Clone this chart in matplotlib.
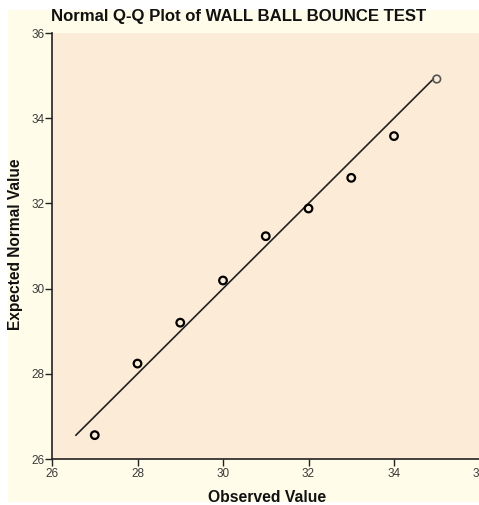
import matplotlib
matplotlib.use("Agg")
import matplotlib.pyplot as plt
from matplotlib.patches import Rectangle

observed = [27, 28, 29, 30, 31, 32, 33, 34, 35]
expected = [26.56, 28.24, 29.20, 30.19, 31.23, 31.88, 32.60, 33.58, 34.92]
line_ends = [26.56, 34.92]
x_ticks = [26, 28, 30, 32, 34, 36]
y_ticks = [26, 28, 30, 32, 34, 36]

W, H = 479, 505
fig = plt.figure(figsize=(W / 100, H / 100), dpi=100)
fig.patch.set_facecolor("white")
fig.patches.append(Rectangle((8 / W, 3 / H), 1 - 8 / W, (H - 13) / H,
                             transform=fig.transFigure, facecolor="#FFFDE9",
                             edgecolor="none", zorder=-10))

ax = fig.add_axes([52 / W, (H - 459) / H, (479.5 - 52) / W, (459 - 33) / H])
ax.set_facecolor("#FCEBD6")
ax.set_xlim(26, 36)
ax.set_ylim(26, 36)
ax.plot(line_ends, line_ends, color="#222222", lw=1.2, zorder=2)
ax.scatter(observed[:-1], expected[:-1], s=30, facecolors="none",
           edgecolors="black", linewidths=1.6, zorder=3)
ax.scatter(observed[-1:], expected[-1:], s=30, facecolors="none",
           edgecolors="#555555", linewidths=1.2, zorder=3)

for s in ["top", "right"]:
    ax.spines[s].set_visible(False)
for s in ["left", "bottom"]:
    ax.spines[s].set_color("#222222")
    ax.spines[s].set_linewidth(1.2)
ax.set_xticks(x_ticks)
ax.set_yticks(y_ticks)
ax.set_xticklabels([str(t) for t in x_ticks])
ax.set_yticklabels([str(t) for t in y_ticks])
ax.tick_params(direction="out", length=5, width=1, colors="#222222",
               labelsize=8.5, labelcolor="#3a3a3a")
ax.tick_params(axis="y", pad=0.5)
ax.tick_params(axis="x", pad=1.5)

fam = ["Liberation Sans", "DejaVu Sans"]
for lab in ax.get_xticklabels() + ax.get_yticklabels():
    lab.set_family(fam)

fig.text(238.5 / W, 1 - 17 / H, "Normal Q-Q Plot of WALL BALL BOUNCE TEST",
         ha="center", va="center", fontsize=12.05, fontweight="bold",
         family=fam, color="#111111")
fig.text(267 / W, 1 - 497 / H, "Observed Value", ha="center", va="center",
         fontsize=11.3, fontweight="bold", family=fam, color="#111111")
fig.text(16 / W, 1 - 244.5 / H, "Expected Normal Value", ha="center", va="center",
         rotation=90, fontsize=11.2, fontweight="bold", family=fam, color="#111111")

fig.savefig("out.png", dpi=100)
